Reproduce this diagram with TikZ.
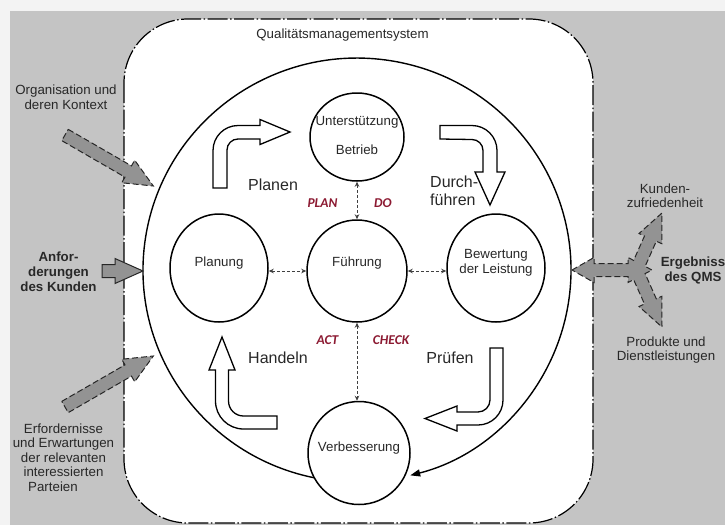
\documentclass[tikz,border=0pt]{standalone}
\usepackage{fontspec}
\setmainfont{Liberation Sans}
\newfontfamily\carl{Carlito}
\usetikzlibrary{arrows.meta,shapes.geometric}
\definecolor{bgl}{HTML}{F3F3F3}
\definecolor{bgg}{HTML}{C4C4C4}
\definecolor{agray}{HTML}{939393}
\definecolor{txt}{HTML}{282828}
\definecolor{pdca}{HTML}{8C1A32}
\begin{document}
\begin{tikzpicture}[x=1pt,y=-1pt,
  circ/.style={draw=black,line width=1.5pt,fill=white,ellipse,inner sep=0pt},
  small/.style={text=txt,font=\fontsize{13.3}{14.5}\selectfont,align=center,inner sep=0pt},
  smallb/.style={small,font=\bfseries\fontsize{13.3}{15}\selectfont},
  big/.style={text=txt,font=\fontsize{16}{18}\selectfont,align=left,inner sep=0pt},
  pd/.style={text=pdca,font=\carl\bfseries\itshape\fontsize{13.5}{14}\selectfont,inner sep=0pt},
  garrow/.style={fill=agray,draw=black!85,line width=1pt,dash pattern=on 6pt off 3pt,line join=miter},
  warrow/.style={fill=white,draw=black,line width=1.3pt,line join=miter},
  dconn/.style={draw=black!75,line width=0.8pt,dash pattern=on 3pt off 2pt,{Stealth[length=5pt,width=4.5pt]}-{Stealth[length=5pt,width=4.5pt]}},
]
\useasboundingbox (0,0) rectangle (725,525);
% background
\fill[bgl] (0,0) rectangle (725,525);
\fill[bgg] (10,11) rectangle (725,525);
% system frame
\draw[fill=white,line width=1.2pt,rounded corners=64pt,dash pattern=on 20pt off 2.5pt on 1.5pt off 2.5pt] (124,19) rectangle (593,523);
\node[small] (qms) at (342.5,35) {Qualitätsmanagementsystem};
% big cycle
\draw[line width=1.4pt,-{Triangle[length=10pt,width=7pt]}] (318.0,478.5) arc[start angle=259.5,end angle=-75.6,x radius=214pt,y radius=212pt];
% circles
\node[circ,minimum width=94pt,minimum height=88pt] (U) at (357,137) {};
\node[circ,minimum width=100pt,minimum height=102pt] (F) at (357,271) {};
\node[circ,minimum width=98pt,minimum height=108pt] (P) at (219,268) {};
\node[circ,minimum width=98pt,minimum height=108pt] (B) at (496,268) {};
\node[circ,minimum width=102pt,minimum height=103pt] (V) at (359,453) {};
\node[small] (tU1) at (357,122) {Unterstützung};
\node[small] (tU2) at (357,150) {Betrieb};
\node[small] (tF) at (357,263) {Führung};
\node[small] (tP) at (219,263) {Planung};
\node[small] (tB) at (496,263) {Bewertung\\der Leistung};
\node[small] (tV) at (359,448) {Verbesserung};
% dashed connectors
\draw[dconn] (U.south) -- (F.north);
\draw[dconn] (F.south) -- (F.south |- V.north);
\draw[dconn] (P.east |- F) -- (F.west);
\draw[dconn] (F.east) -- (B.west |- F);
% white arrows
\draw[warrow] (213,188) -- (213,150.5) arc[start angle=180,end angle=90,radius=25pt] -- (260,125.5) -- (260,119.5) -- (290,132) -- (260,144.5) -- (260,139) -- (238,139) arc[start angle=90,end angle=180,radius=11pt] -- (227,188) -- cycle;
\draw[warrow] (440,125.5) -- (472,125.5) arc[start angle=90,end angle=0,radius=25pt] -- (497,172) -- (505,172) -- (490,205) -- (475,172) -- (483,172) -- (483,150.5) arc[start angle=0,end angle=90,radius=11pt] -- (440,139) -- cycle;
\draw[warrow] (490,348) -- (503,348) -- (503,400) arc[start angle=0,end angle=-90,radius=25pt] -- (457,425) -- (457,431) -- (425,418.5) -- (457,406) -- (457,412) -- (478,412) arc[start angle=-90,end angle=0,radius=12pt] -- cycle;
\draw[warrow] (277,416) -- (243.5,416) arc[start angle=-90,end angle=-180,radius=15pt] -- (228.5,370) -- (235,370) -- (222,337) -- (209,370) -- (215.5,370) -- (215.5,401) arc[start angle=180,end angle=270,radius=28pt] -- (277,429) -- cycle;
% grey arrows left
\begin{scope}[shift={(65,135)},rotate=-30]
\draw[garrow] (0,-6.5) -- (73,-6.5) -- (73,-13) -- (102,0) -- (73,13) -- (73,6.5) -- (0,6.5) -- cycle;
\end{scope}
\begin{scope}[shift={(65,407)},rotate=30]
\draw[garrow] (0,-6.5) -- (73,-6.5) -- (73,-13) -- (102,0) -- (73,13) -- (73,6.5) -- (0,6.5) -- cycle;
\end{scope}
\draw[fill=agray,draw=black!85,line width=1pt,line join=miter] (102,264.5) -- (115,264.5) -- (115,258.5) -- (143,271) -- (115,283.5) -- (115,277.5) -- (102,277.5) -- cycle;
% grey arrows right
\draw[garrow] (572,270) -- (594,257.5) -- (594,263.5) -- (628,263.5) -- (628,257.5) -- (633.6,260.4) -- (644.5,236) -- (639,233.5) -- (662,213) -- (661.8,243.7) -- (656.3,241.2) -- (645.1,266.4) -- (652,270) -- (645.1,273.6) -- (656.3,298.8) -- (661.8,296.3) -- (662,327) -- (639,306.5) -- (644.5,304) -- (633.6,279.6) -- (628,282.5) -- (628,276.5) -- (594,276.5) -- (594,282.5) -- cycle;
% phase labels
\node[big] (planen) at (273,185) {Planen};
\node[big,anchor=west] (durch) at (430,191) {Durch-\\führen};
\node[big] (handeln) at (278,358) {Handeln};
\node[big] (pruefen) at (450,358) {Prüfen};
\node[pd] (plan) at (322.5,203) {PLAN};
\node[pd] (do) at (383,203) {DO};
\node[pd] (act) at (327.5,340) {ACT};
\node[pd] (check) at (391,340) {CHECK};
% outside texts
\node[small] (org) at (66,97) {Organisation und\\deren Kontext};
\node[smallb] (anf) at (58.5,272) {Anfor-\\derungen\\des Kunden};
\node[small] (erf) at (63.5,450) {Erfordernisse\\und Erwartungen\\der relevanten\\interessierten};
\node[small] (part) at (53,487) {Parteien};
\node[small] (kz) at (665,195.5) {Kunden-\\zufriedenheit};
\node[smallb] (erg) at (693,270) {Ergebniss\\des QMS};
\node[small] (prod) at (666,350) {Produkte und\\Dienstleistungen};
\end{tikzpicture}
\end{document}
